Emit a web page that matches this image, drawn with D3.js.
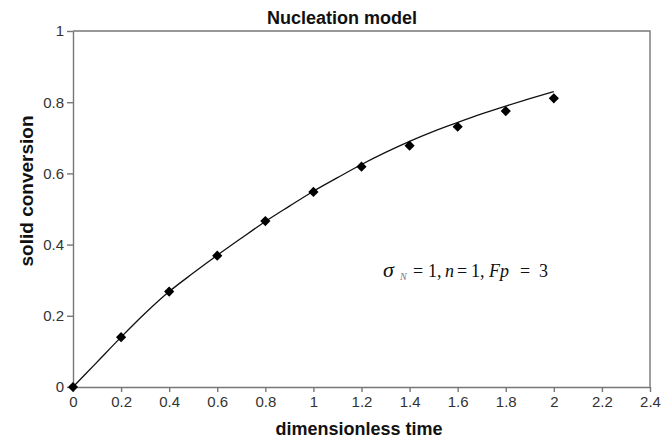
<!DOCTYPE html>
<html>
<head>
<meta charset="utf-8">
<script src="https://cdn.jsdelivr.net/npm/d3@7"></script>
<style>
  body { margin: 0; background: #fff; }
  .axis text { font-family: "Liberation Sans", Arial, sans-serif; font-size: 15px; fill: #333; }
  .axis path, .axis line { stroke: #777; stroke-width: 1.4; }
</style>
</head>
<body>
<div id="chart"></div>
<script>
// simulation points (diamonds)
var pointT = [0, 0.2, 0.4, 0.6, 0.8, 1.0, 1.2, 1.4, 1.6, 1.8, 2.0];
var pointX = [0, 0.140, 0.268, 0.369, 0.466, 0.548, 0.619, 0.678, 0.731, 0.775, 0.811];

// model curve
var curveT = [0, 0.1, 0.2, 0.3, 0.4, 0.5, 0.6, 0.7, 0.8, 0.9, 1.0, 1.1, 1.2, 1.3, 1.4, 1.5, 1.6, 1.7, 1.8, 1.9, 2.0];
var curveX = [0, 0.070, 0.140, 0.207, 0.268, 0.320, 0.370, 0.418, 0.465, 0.508, 0.550, 0.588, 0.625, 0.659, 0.690, 0.718, 0.743, 0.767, 0.789, 0.810, 0.830];

var xTicks = [0, 0.2, 0.4, 0.6, 0.8, 1, 1.2, 1.4, 1.6, 1.8, 2, 2.2, 2.4];
var yTicks = [0, 0.2, 0.4, 0.6, 0.8, 1];

// annotation pieces: text, italic?, x, font size, baseline shift
var annParts = [
  ["σ", true, 383, 22, 0],
  ["N", true, 400, 10, 3],
  ["=", false, 413, 18, 0],
  ["1,", false, 428, 18, 0],
  ["n", true, 445, 18, 0],
  ["=", false, 457, 18, 0],
  ["1,", false, 471, 18, 0],
  ["Fp", true, 489, 18, 0],
  ["=", false, 520, 18, 0],
  ["3", false, 539, 18, 0]
];

var W = 664, H = 439;
var margin = {top: 31, right: 14, bottom: 52, left: 73},
    width = W - margin.left - margin.right,
    height = H - margin.top - margin.bottom;

var svg = d3.select("#chart").append("svg")
    .attr("width", W)
    .attr("height", H);

var g = svg.append("g")
    .attr("transform", "translate(" + margin.left + "," + margin.top + ")");

var x = d3.scaleLinear().domain([0, 2.4]).range([0, width]);
var y = d3.scaleLinear().domain([0, 1]).range([height, 0]);

// frame (top + right)
g.append("path")
    .attr("d", "M0,0H" + width + "V" + height)
    .attr("fill", "none")
    .attr("stroke", "#777")
    .attr("stroke-width", 1.4);

g.append("g")
    .attr("class", "axis")
    .attr("transform", "translate(0," + height + ")")
    .call(d3.axisBottom(x).tickValues(xTicks).tickSize(5).tickSizeOuter(0).tickPadding(4)
        .tickFormat(function(d) { return String(+d.toFixed(1)); }));

g.append("g")
    .attr("class", "axis")
    .call(d3.axisLeft(y).tickValues(yTicks).tickSize(6).tickSizeOuter(0).tickPadding(3)
        .tickFormat(function(d) { return String(+d.toFixed(1)); }));

// model line
var line = d3.line()
    .x(function(d, i) { return x(curveT[i]); })
    .y(function(d) { return y(d); })
    .curve(d3.curveMonotoneX);

g.append("path")
    .datum(curveX)
    .attr("d", line)
    .attr("fill", "none")
    .attr("stroke", "#111")
    .attr("stroke-width", 1.3);

// diamonds
var diamond = d3.symbol().type(d3.symbolSquare).size(52);
g.selectAll(".pt")
    .data(pointX)
    .enter().append("path")
    .attr("class", "pt")
    .attr("d", diamond)
    .attr("transform", function(d, i) { return "translate(" + x(pointT[i]) + "," + y(d) + ") rotate(45)"; })
    .attr("fill", "#000");

// title
svg.append("text")
    .attr("x", 342).attr("y", 24)
    .attr("text-anchor", "middle")
    .style("font-family", "Liberation Sans, Arial, sans-serif")
    .style("font-weight", "bold")
    .style("font-size", "18px")
    .style("fill", "#111")
    .text("Nucleation model");

// axis titles
svg.append("text")
    .attr("x", 359).attr("y", 435)
    .attr("text-anchor", "middle")
    .style("font-family", "Liberation Sans, Arial, sans-serif")
    .style("font-weight", "bold")
    .style("font-size", "18px")
    .style("fill", "#111")
    .text("dimensionless time");

svg.append("text")
    .attr("transform", "translate(33,191) rotate(-90)")
    .attr("text-anchor", "middle")
    .style("font-family", "Liberation Sans, Arial, sans-serif")
    .style("font-weight", "bold")
    .style("font-size", "19px")
    .style("fill", "#111")
    .text("solid conversion");

// annotation
svg.append("g").selectAll("text")
    .data(annParts)
    .enter().append("text")
    .attr("x", function(d) { return d[2]; })
    .attr("y", function(d) { return 277 + d[4]; })
    .style("font-family", "Liberation Serif, 'Times New Roman', serif")
    .style("font-style", function(d) { return d[1] ? "italic" : "normal"; })
    .style("font-size", function(d) { return d[3] + "px"; })
    .style("fill", function(d) { return d[0] === "N" ? "#777" : "#111"; })
    .text(function(d) { return d[0]; });
</script>
</body>
</html>
